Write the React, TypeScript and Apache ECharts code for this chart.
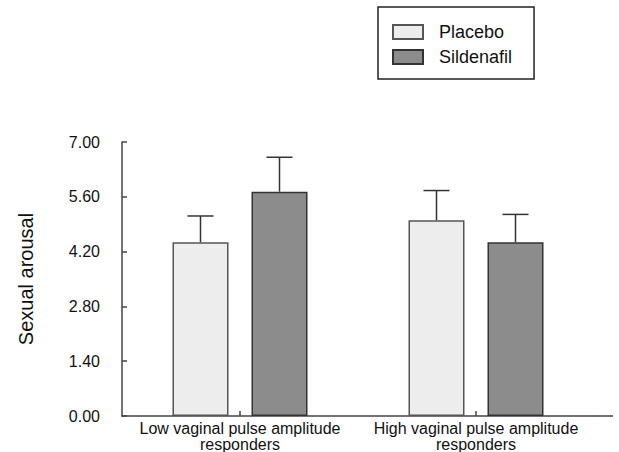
import React, { useEffect, useRef } from "react";
import * as echarts from "echarts";

const categories = ["Low vaginal pulse amplitude\nresponders", "High vaginal pulse amplitude\nresponders"];
const seriesNames = ["Placebo", "Sildenafil"];
const placeboMeans = [4.44, 5.0];
const placeboErr = [0.67, 0.76];
const sildenafilMeans = [5.73, 4.44];
const sildenafilErr = [0.88, 0.71];
const yTicks = { min: 0, max: 7, interval: 1.4 };

const FONT = '"Liberation Sans", Arial, Helvetica, sans-serif';
const BAR_W = 56;
const BAR_GAP = 23;
const GRID = { left: 122, top: 142, width: 472, height: 274 };
const AXIS_END_X = 613;

export default function App() {
  const ref = useRef<HTMLDivElement>(null);
  useEffect(() => {
    if (!ref.current) return;
    const chart = echarts.init(ref.current, undefined, { renderer: "svg" });
    const groupW = BAR_W * 2 + BAR_GAP;
    const offsets = [-groupW / 2 + BAR_W / 2, groupW / 2 - BAR_W / 2];
    const errSeries = (means: number[], errs: number[], k: number) => ({
      type: "custom",
      name: seriesNames[k] + " SEM",
      z: 5,
      renderItem: (params: any, api: any) => {
        const i = api.value(0);
        const v = api.value(1);
        const e = api.value(2);
        const p0 = api.coord([i, v]);
        const p1 = api.coord([i, v + e]);
        const x = p0[0] + offsets[k];
        const style = { stroke: "#333", lineWidth: 1.5 };
        return {
          type: "group",
          children: [
            { type: "line", shape: { x1: x, y1: p0[1], x2: x, y2: p1[1] }, style },
            { type: "line", shape: { x1: x - 13, y1: p1[1], x2: x + 13, y2: p1[1] }, style },
          ],
        };
      },
      data: means.map((m, i) => [i, m, errs[i]]),
      encode: { x: 0, y: 1 },
    });
    chart.setOption({
      animation: false,
      backgroundColor: "#fff",
      textStyle: { fontFamily: FONT },
      grid: { ...GRID },
      legend: {
        data: seriesNames,
        orient: "vertical",
        left: 378,
        top: 7,
        padding: [16, 22, 13, 14],
        itemWidth: 30,
        itemHeight: 14,
        itemGap: 7,
        borderColor: "#222",
        borderWidth: 1.5,
        borderRadius: 0,
        icon: "rect",
        textStyle: { fontFamily: FONT, fontSize: 18, color: "#111", padding: [0, 0, 0, 11] },
      },
      xAxis: {
        type: "category",
        data: categories,
        axisLine: { lineStyle: { color: "#444", width: 1.5 } },
        axisTick: { show: true, alignWithLabel: true, inside: true, length: 5, lineStyle: { color: "#444", width: 1.5 } },
        axisLabel: { fontFamily: FONT, fontSize: 16, color: "#111", margin: 4, lineHeight: 16, interval: 0 },
      },
      yAxis: {
        type: "value",
        min: yTicks.min,
        max: yTicks.max,
        interval: yTicks.interval,
        name: "Sexual arousal",
        nameLocation: "middle",
        nameGap: 86,
        nameTextStyle: { fontFamily: FONT, fontSize: 20, color: "#111" },
        splitLine: { show: false },
        axisLine: { show: true, lineStyle: { color: "#444", width: 1.5 } },
        axisTick: { show: true, inside: true, length: 5, lineStyle: { color: "#444", width: 1.5 } },
        axisLabel: {
          fontFamily: FONT,
          fontSize: 16,
          color: "#111",
          margin: 22,
          formatter: (v: number) => v.toFixed(2),
        },
      },
      series: [
        {
          type: "bar",
          name: "Placebo",
          data: placeboMeans,
          barWidth: BAR_W,
          barGap: (BAR_GAP / BAR_W) * 100 + "%",
          itemStyle: { color: "#ededed", borderColor: "#555", borderWidth: 1.5 },
        },
        {
          type: "bar",
          name: "Sildenafil",
          data: sildenafilMeans,
          barWidth: BAR_W,
          barGap: (BAR_GAP / BAR_W) * 100 + "%",
          itemStyle: { color: "#8c8c8c", borderColor: "#333", borderWidth: 1.5 },
        },
        errSeries(placeboMeans, placeboErr, 0),
        errSeries(sildenafilMeans, sildenafilErr, 1),
      ],
      graphic: [
        {
          type: "line",
          shape: {
            x1: GRID.left + GRID.width,
            y1: GRID.top + GRID.height,
            x2: AXIS_END_X,
            y2: GRID.top + GRID.height,
          },
          style: { stroke: "#444", lineWidth: 1.5 },
        },
      ],
    });
    return () => chart.dispose();
  }, []);
  return <div ref={ref} style={{ position: "fixed", left: 0, top: 0, width: 619, height: 452 }} />;
}
